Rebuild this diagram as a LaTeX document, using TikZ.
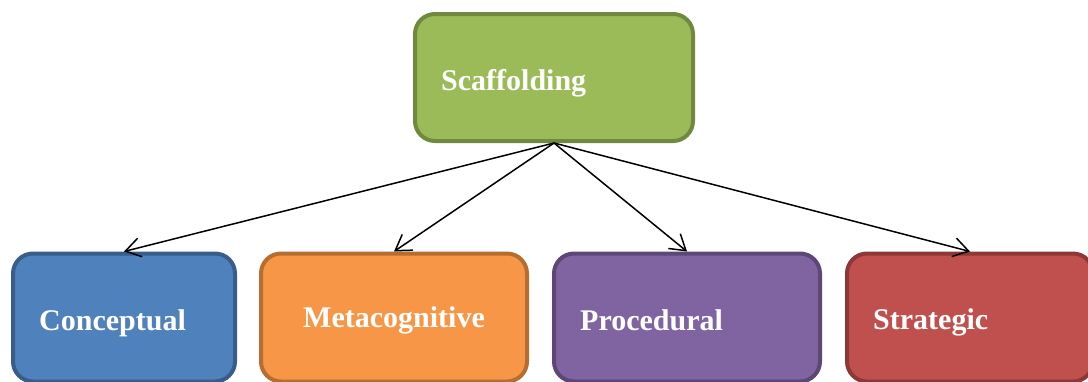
\documentclass[tikz,border=0pt]{standalone}
\usepackage{fontspec}
\setmainfont{Liberation Serif}
\usetikzlibrary{arrows.meta}
\definecolor{gfill}{HTML}{9BBB59}\definecolor{gline}{HTML}{71893F}
\definecolor{bfill}{HTML}{4F81BD}\definecolor{bline}{HTML}{385D8A}
\definecolor{ofill}{HTML}{F79646}\definecolor{oline}{HTML}{B66D31}
\definecolor{pfill}{HTML}{8064A2}\definecolor{pline}{HTML}{5C4776}
\definecolor{rfill}{HTML}{C0504D}\definecolor{rline}{HTML}{8C3836}
\tikzset{
  boxnode/.style={rectangle, rounded corners=20pt, line width=4pt, inner sep=0pt},
  lbl/.style={anchor=base west, inner sep=0pt, text=white, font=\fontsize{30}{34}\selectfont\bfseries},
  link/.style={line width=1.5pt, -{Straight Barb[length=15pt,width=19pt,line width=1.5pt]}}
}
\begin{document}
\begin{tikzpicture}[x=1pt,y=-1pt]
\useasboundingbox (0,0) rectangle (1088,381);
\node[boxnode, draw=gline, fill=gfill, minimum width=278pt, minimum height=127pt] (scaf) at (554,77.5) {};
\node[boxnode, draw=bline, fill=bfill, minimum width=222pt, minimum height=128pt] (conc) at (124,317.5) {};
\node[boxnode, draw=oline, fill=ofill, minimum width=266pt, minimum height=128pt] (meta) at (394,317.5) {};
\node[boxnode, draw=pline, fill=pfill, minimum width=266pt, minimum height=128pt] (proc) at (687,317.5) {};
\node[boxnode, draw=rline, fill=rfill, minimum width=246pt, minimum height=128pt] (strat) at (970,317.5) {};
\node[lbl] (tscaf) at (441,90) {Scaffolding};
\node[lbl] (tconc) at (39,330) {Conceptual};
\node[lbl] (tmeta) at (303,327) {Metacognitive};
\node[lbl] (tproc) at (580,330) {Procedural};
\node[lbl] (tstrat) at (873,329) {Strategic};
\draw[link] (scaf.south) -- (conc.north);
\draw[link] (scaf.south) -- (meta.north);
\draw[link] (scaf.south) -- (proc.north);
\draw[link] (scaf.south) -- (strat.north);
\end{tikzpicture}
\end{document}
